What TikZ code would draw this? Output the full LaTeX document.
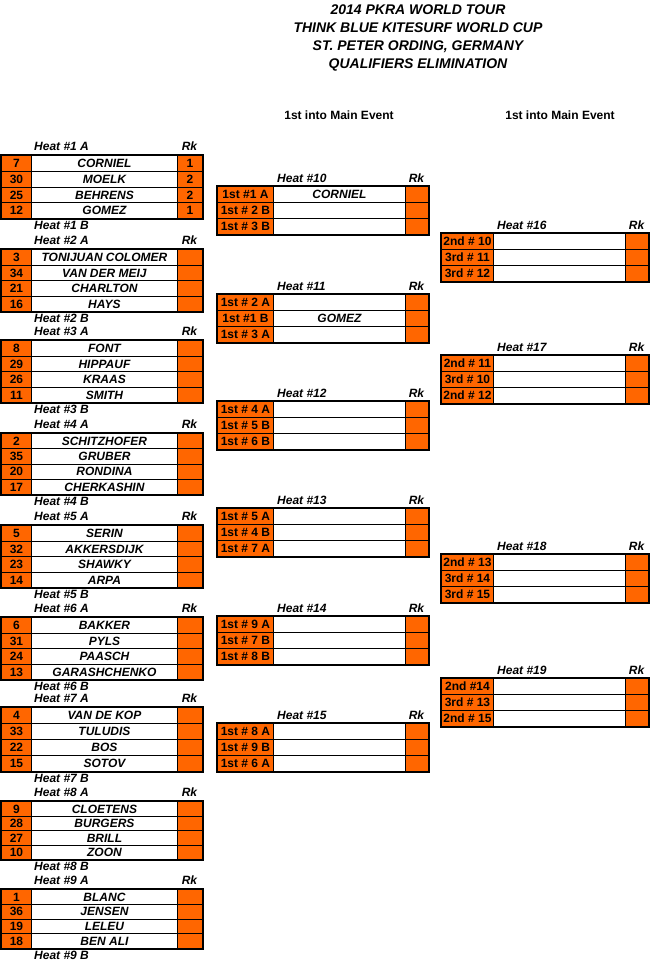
\documentclass[tikz,border=0pt]{standalone}
\usepackage{fontspec}
\setmainfont{Liberation Sans}
\definecolor{org}{HTML}{FF6600}
\tikzset{
  cellbase/.style={draw=black, line width=0.9pt, inner sep=0pt, text height=8.6pt, text depth=0pt,
    font=\fontsize{12}{12}\selectfont\bfseries, anchor=north west},
  numcell/.style={cellbase, fill=org},
  namecell/.style={cellbase, fill=white, font=\fontsize{12}{12}\selectfont\bfseries\itshape},
  frame/.style={draw=black, line width=2.2pt},
  hlabel/.style={inner sep=0pt, font=\fontsize{12}{12}\selectfont\bfseries\itshape},
  titletext/.style={inner sep=0pt, anchor=base, font=\fontsize{14}{14}\selectfont\bfseries\itshape},
  headtext/.style={inner sep=0pt, anchor=base, font=\fontsize{12}{12}\selectfont\bfseries}
}
% left block: heat, top, bottom, rows (num/name/rank)
\newcommand{\lblock}[4]{%
  \pgfmathsetmacro{\rh}{(#3-#2)/4}
  \node[hlabel, anchor=base west] (h#1a) at (34,#2-4.5) {Heat \##1 A};
  \node[hlabel, anchor=base] (h#1rk) at (189.5,#2-4.5) {Rk};
  \foreach \nn/\nm/\rk [count=\i] in {#4} {
    \pgfmathsetmacro{\yy}{#2+(\i-1)*\rh}
    \node[numcell, minimum width=30pt, minimum height=\rh pt] (b#1n\i) at (1,\yy) {\nn};
    \node[namecell, minimum width=146pt, minimum height=\rh pt] (b#1m\i) at (31,\yy) {\nm};
    \node[numcell, minimum width=25pt, minimum height=\rh pt] (b#1k\i) at (177,\yy) {\rk};
  }
  \draw[frame] (b#1n1.north west) rectangle (b#1k4.south east);
  \node[hlabel, anchor=base west] (h#1b) at (34,#3+11.5) {Heat \##1 B};
}
% middle/right block: heat, top, bottom, rows (label/name), x0, w1, labelx
\newcommand{\mblock}[7]{%
  \pgfmathsetmacro{\rh}{(#3-#2)/3}
  \pgfmathsetmacro{\xa}{#5+#6}
  \pgfmathsetmacro{\xb}{#5+#6+132}
  \pgfmathsetmacro{\xc}{#5+#6+132+11.5}
  \node[hlabel, anchor=base west] (h#1) at (#7,#2-3.8) {Heat \##1};
  \node[hlabel, anchor=base] (h#1rk) at (\xc,#2-3.8) {Rk};
  \foreach \lb/\nm [count=\i] in {#4} {
    \pgfmathsetmacro{\yy}{#2+(\i-1)*\rh}
    \node[numcell, minimum width=#6pt, minimum height=\rh pt] (b#1n\i) at (#5,\yy) {\lb};
    \node[namecell, minimum width=132pt, minimum height=\rh pt] (b#1m\i) at (\xa,\yy) {\nm};
    \node[numcell, minimum width=23pt, minimum height=\rh pt] (b#1k\i) at (\xb,\yy) {};
  }
  \draw[frame] (b#1n1.north west) rectangle (b#1k3.south east);
}
\begin{document}
\begin{tikzpicture}[x=1pt,y=-1pt]
\useasboundingbox (0,0) rectangle (650,964);
\fill[white] (0,0) rectangle (650,964);
% title
\node[titletext] (t1) at (418,14) {2014 PKRA WORLD TOUR};
\node[titletext] (t2) at (418,32) {THINK BLUE KITESURF WORLD CUP};
\node[titletext] (t3) at (418,50) {ST. PETER ORDING, GERMANY};
\node[titletext] (t4) at (418,68.5) {QUALIFIERS ELIMINATION};
\node[headtext] (m1) at (339,119.5) {1st into Main Event};
\node[headtext] (m2) at (560,119.5) {1st into Main Event};
% left column
\lblock{1}{155}{218}{7/CORNIEL/1, 30/MOELK/2, 25/BEHRENS/2, 12/GOMEZ/1}
\lblock{2}{249}{311}{3/TONIJUAN COLOMER/\relax, 34/VAN DER MEIJ/\relax, 21/CHARLTON/\relax, 16/HAYS/\relax}
\lblock{3}{340}{402}{8/FONT/\relax, 29/HIPPAUF/\relax, 26/KRAAS/\relax, 11/SMITH/\relax}
\lblock{4}{433}{494}{2/SCHITZHOFER/\relax, 35/GRUBER/\relax, 20/RONDINA/\relax, 17/CHERKASHIN/\relax}
\lblock{5}{525}{587}{5/SERIN/\relax, 32/AKKERSDIJK/\relax, 23/SHAWKY/\relax, 14/ARPA/\relax}
\lblock{6}{617}{679}{6/BAKKER/\relax, 31/PYLS/\relax, 24/PAASCH/\relax, 13/GARASHCHENKO/\relax}
\lblock{7}{707}{771}{4/VAN DE KOP/\relax, 33/TULUDIS/\relax, 22/BOS/\relax, 15/SOTOV/\relax}
\lblock{8}{801}{859}{9/CLOETENS/\relax, 28/BURGERS/\relax, 27/BRILL/\relax, 10/ZOON/\relax}
\lblock{9}{889}{948}{1/BLANC/\relax, 36/JENSEN/\relax, 19/LELEU/\relax, 18/BEN ALI/\relax}
% middle column
\mblock{10}{186}{234}{1st \#1 A/CORNIEL, 1st \# 2 B/\relax, 1st \# 3 B/\relax}{217}{56}{277}
\mblock{11}{294}{342}{1st \# 2 A/\relax, 1st \#1 B/GOMEZ, 1st \# 3 A/\relax}{217}{56}{277}
\mblock{12}{401}{449}{1st \# 4 A/\relax, 1st \# 5 B/\relax, 1st \# 6 B/\relax}{217}{56}{277}
\mblock{13}{508}{556}{1st \# 5 A/\relax, 1st \# 4 B/\relax, 1st \# 7 A/\relax}{217}{56}{277}
\mblock{14}{616}{664}{1st \# 9 A/\relax, 1st \# 7 B/\relax, 1st \# 8 B/\relax}{217}{56}{277}
\mblock{15}{723}{771}{1st \# 8 A/\relax, 1st \# 9 B/\relax, 1st \# 6 A/\relax}{217}{56}{277}
% right column
\mblock{16}{233}{281}{2nd \# 10/\relax, 3rd \# 11/\relax, 3rd \# 12/\relax}{441}{52}{497}
\mblock{17}{355}{403}{2nd \# 11/\relax, 3rd \# 10/\relax, 2nd \# 12/\relax}{441}{52}{497}
\mblock{18}{554}{602}{2nd \# 13/\relax, 3rd \# 14/\relax, 3rd \# 15/\relax}{441}{52}{497}
\mblock{19}{678}{726}{2nd \#14/\relax, 3rd \# 13/\relax, 2nd \# 15/\relax}{441}{52}{497}
\end{tikzpicture}
\end{document}
